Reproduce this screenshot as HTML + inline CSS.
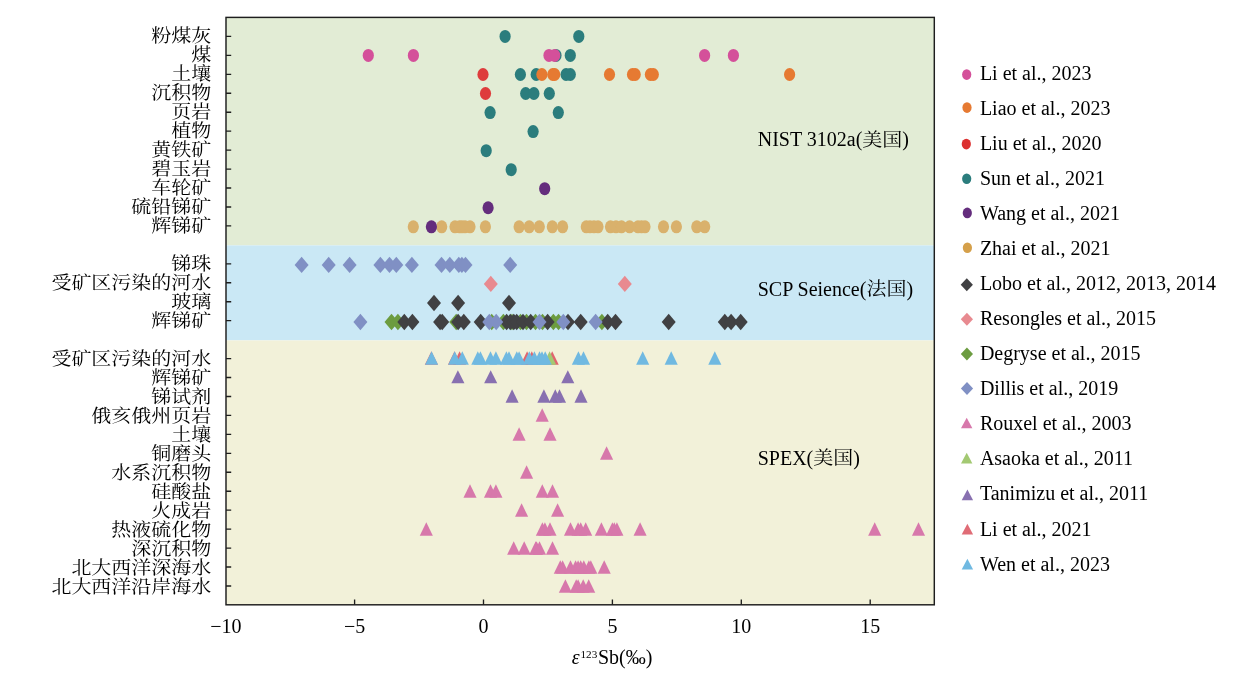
<!DOCTYPE html>
<html lang="zh-CN">
<head>
<meta charset="utf-8">
<title>ε123Sb(‰)</title>
<style>
html,body{margin:0;padding:0;background:#fff;}
body{width:1259px;height:677px;overflow:hidden;}
svg{display:block;}
text{font-family:"Liberation Serif","Noto Serif CJK SC",serif;font-size:20px;fill:#000000;}
.yl{font-size:20px;font-weight:400;text-anchor:end;}
.xt{text-anchor:middle;}
.cj{font-weight:400;}
.it{font-style:italic;}
.ax{stroke:#1e1e1e;fill:none;}
</style>
</head>
<body>
<svg width="1259" height="677" viewBox="0 0 1259 677" role="img" aria-label="ε123Sb(‰)">
<rect x="0" y="0" width="1259" height="677" fill="#ffffff"/>
<g id="bands">
<rect x="226" y="17.4" width="708.3" height="228" fill="#e2ecd5"/>
<rect x="226" y="245.4" width="708.3" height="95" fill="#cae8f5"/>
<rect x="226" y="340.4" width="708.3" height="264.4" fill="#f2f1d9"/>
</g>
<g id="circles">
<g fill="#2b7d7d"><ellipse cx="505.1" cy="36.4" rx="5.6" ry="6.5"/><ellipse cx="578.8" cy="36.4" rx="5.6" ry="6.5"/></g>
<g fill="#2b7d7d"><ellipse cx="556" cy="55.44" rx="5.6" ry="6.5"/><ellipse cx="570.3" cy="55.44" rx="5.6" ry="6.5"/></g>
<g fill="#d4509a"><ellipse cx="368.3" cy="55.44" rx="5.6" ry="6.5"/><ellipse cx="413.4" cy="55.44" rx="5.6" ry="6.5"/><ellipse cx="549" cy="55.44" rx="5.6" ry="6.5"/><ellipse cx="554.7" cy="55.44" rx="5.6" ry="6.5"/><ellipse cx="704.6" cy="55.44" rx="5.6" ry="6.5"/><ellipse cx="733.4" cy="55.44" rx="5.6" ry="6.5"/></g>
<g fill="#2b7d7d"><ellipse cx="520.4" cy="74.48" rx="5.6" ry="6.5"/><ellipse cx="536.2" cy="74.48" rx="5.6" ry="6.5"/><ellipse cx="566.1" cy="74.48" rx="5.6" ry="6.5"/><ellipse cx="570.3" cy="74.48" rx="5.6" ry="6.5"/></g>
<g fill="#e67a32"><ellipse cx="541.9" cy="74.48" rx="5.6" ry="6.5"/><ellipse cx="552.8" cy="74.48" rx="5.6" ry="6.5"/><ellipse cx="554.7" cy="74.48" rx="5.6" ry="6.5"/><ellipse cx="609.5" cy="74.48" rx="5.6" ry="6.5"/><ellipse cx="632.5" cy="74.48" rx="5.6" ry="6.5"/><ellipse cx="635.2" cy="74.48" rx="5.6" ry="6.5"/><ellipse cx="650.4" cy="74.48" rx="5.6" ry="6.5"/><ellipse cx="653.3" cy="74.48" rx="5.6" ry="6.5"/><ellipse cx="789.6" cy="74.48" rx="5.6" ry="6.5"/></g>
<g fill="#de3c3c"><ellipse cx="483" cy="74.48" rx="5.6" ry="6.5"/></g>
<g fill="#2b7d7d"><ellipse cx="525.7" cy="93.52" rx="5.6" ry="6.5"/><ellipse cx="533.9" cy="93.52" rx="5.6" ry="6.5"/><ellipse cx="549.3" cy="93.52" rx="5.6" ry="6.5"/></g>
<g fill="#de3c3c"><ellipse cx="485.5" cy="93.52" rx="5.6" ry="6.5"/></g>
<g fill="#2b7d7d"><ellipse cx="490.1" cy="112.56" rx="5.6" ry="6.5"/><ellipse cx="558.3" cy="112.56" rx="5.6" ry="6.5"/></g>
<g fill="#2b7d7d"><ellipse cx="533.1" cy="131.6" rx="5.6" ry="6.5"/></g>
<g fill="#2b7d7d"><ellipse cx="486.2" cy="150.64" rx="5.6" ry="6.5"/></g>
<g fill="#2b7d7d"><ellipse cx="511.2" cy="169.68" rx="5.6" ry="6.5"/></g>
<g fill="#642d7d"><ellipse cx="544.7" cy="188.72" rx="5.6" ry="6.5"/></g>
<g fill="#642d7d"><ellipse cx="488.1" cy="207.76" rx="5.6" ry="6.5"/></g>
<g fill="#d9b16c"><ellipse cx="413.3" cy="226.8" rx="5.6" ry="6.5"/><ellipse cx="441.7" cy="226.8" rx="5.6" ry="6.5"/><ellipse cx="455" cy="226.8" rx="5.6" ry="6.5"/><ellipse cx="459.5" cy="226.8" rx="5.6" ry="6.5"/><ellipse cx="462" cy="226.8" rx="5.6" ry="6.5"/><ellipse cx="465" cy="226.8" rx="5.6" ry="6.5"/><ellipse cx="470" cy="226.8" rx="5.6" ry="6.5"/><ellipse cx="485.4" cy="226.8" rx="5.6" ry="6.5"/><ellipse cx="519.1" cy="226.8" rx="5.6" ry="6.5"/><ellipse cx="529.2" cy="226.8" rx="5.6" ry="6.5"/><ellipse cx="539.3" cy="226.8" rx="5.6" ry="6.5"/><ellipse cx="552.3" cy="226.8" rx="5.6" ry="6.5"/><ellipse cx="562.6" cy="226.8" rx="5.6" ry="6.5"/><ellipse cx="586.3" cy="226.8" rx="5.6" ry="6.5"/><ellipse cx="590" cy="226.8" rx="5.6" ry="6.5"/><ellipse cx="594" cy="226.8" rx="5.6" ry="6.5"/><ellipse cx="598" cy="226.8" rx="5.6" ry="6.5"/><ellipse cx="610.5" cy="226.8" rx="5.6" ry="6.5"/><ellipse cx="616" cy="226.8" rx="5.6" ry="6.5"/><ellipse cx="621.5" cy="226.8" rx="5.6" ry="6.5"/><ellipse cx="629.6" cy="226.8" rx="5.6" ry="6.5"/><ellipse cx="638" cy="226.8" rx="5.6" ry="6.5"/><ellipse cx="641.5" cy="226.8" rx="5.6" ry="6.5"/><ellipse cx="645" cy="226.8" rx="5.6" ry="6.5"/><ellipse cx="663.5" cy="226.8" rx="5.6" ry="6.5"/><ellipse cx="676.4" cy="226.8" rx="5.6" ry="6.5"/><ellipse cx="696.8" cy="226.8" rx="5.6" ry="6.5"/><ellipse cx="704.7" cy="226.8" rx="5.6" ry="6.5"/></g>
<g fill="#642d7d"><ellipse cx="431.4" cy="226.8" rx="5.6" ry="6.5"/></g>
</g>
<g id="diamonds">
<g fill="#8090c4"><polygon points="301.6,256.68 308.6,264.88 301.6,273.08 294.6,264.88"/><polygon points="328.7,256.68 335.7,264.88 328.7,273.08 321.7,264.88"/><polygon points="349.6,256.68 356.6,264.88 349.6,273.08 342.6,264.88"/><polygon points="380.4,256.68 387.4,264.88 380.4,273.08 373.4,264.88"/><polygon points="389.5,256.68 396.5,264.88 389.5,273.08 382.5,264.88"/><polygon points="396.3,256.68 403.3,264.88 396.3,273.08 389.3,264.88"/><polygon points="411.9,256.68 418.9,264.88 411.9,273.08 404.9,264.88"/><polygon points="441.5,256.68 448.5,264.88 441.5,273.08 434.5,264.88"/><polygon points="449.8,256.68 456.8,264.88 449.8,273.08 442.8,264.88"/><polygon points="458.8,256.68 465.8,264.88 458.8,273.08 451.8,264.88"/><polygon points="461.9,256.68 468.9,264.88 461.9,273.08 454.9,264.88"/><polygon points="465.5,256.68 472.5,264.88 465.5,273.08 458.5,264.88"/><polygon points="510.2,256.68 517.2,264.88 510.2,273.08 503.2,264.88"/></g>
<g fill="#e88a90"><polygon points="490.8,275.72 497.8,283.92 490.8,292.12 483.8,283.92"/><polygon points="624.8,275.72 631.8,283.92 624.8,292.12 617.8,283.92"/></g>
<g fill="#414143"><polygon points="434,294.76 441,302.96 434,311.16 427,302.96"/><polygon points="458.1,294.76 465.1,302.96 458.1,311.16 451.1,302.96"/><polygon points="509,294.76 516,302.96 509,311.16 502,302.96"/></g>
<g fill="#6c9c40"><polygon points="391.5,313.8 398.5,322 391.5,330.2 384.5,322"/><polygon points="397.9,313.8 404.9,322 397.9,330.2 390.9,322"/><polygon points="456.2,313.8 463.2,322 456.2,330.2 449.2,322"/><polygon points="491.7,313.8 498.7,322 491.7,330.2 484.7,322"/><polygon points="503.4,313.8 510.4,322 503.4,330.2 496.4,322"/><polygon points="512,313.8 519,322 512,330.2 505,322"/><polygon points="520.5,313.8 527.5,322 520.5,330.2 513.5,322"/><polygon points="526.5,313.8 533.5,322 526.5,330.2 519.5,322"/><polygon points="535.5,313.8 542.5,322 535.5,330.2 528.5,322"/><polygon points="542.5,313.8 549.5,322 542.5,330.2 535.5,322"/><polygon points="553.4,313.8 560.4,322 553.4,330.2 546.4,322"/><polygon points="558.5,313.8 565.5,322 558.5,330.2 551.5,322"/><polygon points="601.9,313.8 608.9,322 601.9,330.2 594.9,322"/></g>
<g fill="#414143"><polygon points="404.3,313.8 411.3,322 404.3,330.2 397.3,322"/><polygon points="412.4,313.8 419.4,322 412.4,330.2 405.4,322"/><polygon points="440.1,313.8 447.1,322 440.1,330.2 433.1,322"/><polygon points="442.2,313.8 449.2,322 442.2,330.2 435.2,322"/><polygon points="458.1,313.8 465.1,322 458.1,330.2 451.1,322"/><polygon points="463.8,313.8 470.8,322 463.8,330.2 456.8,322"/><polygon points="480.7,313.8 487.7,322 480.7,330.2 473.7,322"/><polygon points="506.6,313.8 513.6,322 506.6,330.2 499.6,322"/><polygon points="510.3,313.8 517.3,322 510.3,330.2 503.3,322"/><polygon points="513.8,313.8 520.8,322 513.8,330.2 506.8,322"/><polygon points="516.7,313.8 523.7,322 516.7,330.2 509.7,322"/><polygon points="523,313.8 530,322 523,330.2 516,322"/><polygon points="530.7,313.8 537.7,322 530.7,330.2 523.7,322"/><polygon points="547.6,313.8 554.6,322 547.6,330.2 540.6,322"/><polygon points="568,313.8 575,322 568,330.2 561,322"/><polygon points="580.7,313.8 587.7,322 580.7,330.2 573.7,322"/><polygon points="607.7,313.8 614.7,322 607.7,330.2 600.7,322"/><polygon points="615.5,313.8 622.5,322 615.5,330.2 608.5,322"/><polygon points="668.7,313.8 675.7,322 668.7,330.2 661.7,322"/><polygon points="724.8,313.8 731.8,322 724.8,330.2 717.8,322"/><polygon points="731.1,313.8 738.1,322 731.1,330.2 724.1,322"/><polygon points="740.7,313.8 747.7,322 740.7,330.2 733.7,322"/></g>
<g fill="#8090c4"><polygon points="360.4,313.8 367.4,322 360.4,330.2 353.4,322"/><polygon points="489.3,313.8 496.3,322 489.3,330.2 482.3,322"/><polygon points="496.2,313.8 503.2,322 496.2,330.2 489.2,322"/><polygon points="539.5,313.8 546.5,322 539.5,330.2 532.5,322"/><polygon points="563.3,313.8 570.3,322 563.3,330.2 556.3,322"/><polygon points="595.6,313.8 602.6,322 595.6,330.2 588.6,322"/></g>
</g>
<g id="triangles">
<g fill="#e0656e"><polygon points="431.4,351.35 437.95,364.65 424.85,364.65"/><polygon points="454.5,351.35 461.05,364.65 447.95,364.65"/><polygon points="459.6,351.35 466.15,364.65 453.05,364.65"/><polygon points="527.1,351.35 533.65,364.65 520.55,364.65"/><polygon points="531.8,351.35 538.35,364.65 525.25,364.65"/><polygon points="552.2,351.35 558.75,364.65 545.65,364.65"/></g>
<g fill="#a3c972"><polygon points="549.6,351.35 556.15,364.65 543.05,364.65"/></g>
<g fill="#70b9e1"><polygon points="431.6,351.35 438.15,364.65 425.05,364.65"/><polygon points="454.7,351.35 461.25,364.65 448.15,364.65"/><polygon points="462.3,351.35 468.85,364.65 455.75,364.65"/><polygon points="477.8,351.35 484.35,364.65 471.25,364.65"/><polygon points="480.4,351.35 486.95,364.65 473.85,364.65"/><polygon points="490.5,351.35 497.05,364.65 483.95,364.65"/><polygon points="495.9,351.35 502.45,364.65 489.35,364.65"/><polygon points="506.4,351.35 512.95,364.65 499.85,364.65"/><polygon points="509,351.35 515.55,364.65 502.45,364.65"/><polygon points="516.8,351.35 523.35,364.65 510.25,364.65"/><polygon points="519.1,351.35 525.65,364.65 512.55,364.65"/><polygon points="529.3,351.35 535.85,364.65 522.75,364.65"/><polygon points="534.4,351.35 540.95,364.65 527.85,364.65"/><polygon points="539.5,351.35 546.05,364.65 532.95,364.65"/><polygon points="542,351.35 548.55,364.65 535.45,364.65"/><polygon points="545.2,351.35 551.75,364.65 538.65,364.65"/><polygon points="578.4,351.35 584.95,364.65 571.85,364.65"/><polygon points="583.5,351.35 590.05,364.65 576.95,364.65"/><polygon points="642.7,351.35 649.25,364.65 636.15,364.65"/><polygon points="671.2,351.35 677.75,364.65 664.65,364.65"/><polygon points="714.8,351.35 721.35,364.65 708.25,364.65"/></g>
<g fill="#8870b0"><polygon points="457.9,370.35 464.45,383.15 451.35,383.15"/><polygon points="490.7,370.35 497.25,383.15 484.15,383.15"/><polygon points="567.8,370.35 574.35,383.15 561.25,383.15"/></g>
<g fill="#8870b0"><polygon points="512.1,389.35 518.65,402.65 505.55,402.65"/><polygon points="543.9,389.35 550.45,402.65 537.35,402.65"/><polygon points="555.3,389.35 561.85,402.65 548.75,402.65"/><polygon points="559.5,389.35 566.05,402.65 552.95,402.65"/><polygon points="581,389.35 587.55,402.65 574.45,402.65"/></g>
<g fill="#d778ab"><polygon points="542.2,408.35 548.75,421.65 535.65,421.65"/></g>
<g fill="#d778ab"><polygon points="519.1,427.35 525.65,440.65 512.55,440.65"/><polygon points="550,427.35 556.55,440.65 543.45,440.65"/></g>
<g fill="#d778ab"><polygon points="606.6,446.35 613.15,459.65 600.05,459.65"/></g>
<g fill="#d778ab"><polygon points="526.6,465.35 533.15,478.65 520.05,478.65"/></g>
<g fill="#d778ab"><polygon points="470,484.35 476.55,497.65 463.45,497.65"/><polygon points="490.5,484.35 497.05,497.65 483.95,497.65"/><polygon points="495.9,484.35 502.45,497.65 489.35,497.65"/><polygon points="542.3,484.35 548.85,497.65 535.75,497.65"/><polygon points="552.5,484.35 559.05,497.65 545.95,497.65"/></g>
<g fill="#d778ab"><polygon points="521.6,503.35 528.15,516.65 515.05,516.65"/><polygon points="557.6,503.35 564.15,516.65 551.05,516.65"/></g>
<g fill="#d778ab"><polygon points="426.3,522.35 432.85,535.65 419.75,535.65"/><polygon points="542.4,522.35 548.95,535.65 535.85,535.65"/><polygon points="544.9,522.35 551.45,535.65 538.35,535.65"/><polygon points="550,522.35 556.55,535.65 543.45,535.65"/><polygon points="570.5,522.35 577.05,535.65 563.95,535.65"/><polygon points="578.1,522.35 584.65,535.65 571.55,535.65"/><polygon points="580.7,522.35 587.25,535.65 574.15,535.65"/><polygon points="585.7,522.35 592.25,535.65 579.15,535.65"/><polygon points="601.4,522.35 607.95,535.65 594.85,535.65"/><polygon points="612.4,522.35 618.95,535.65 605.85,535.65"/><polygon points="614.3,522.35 620.85,535.65 607.75,535.65"/><polygon points="616.9,522.35 623.45,535.65 610.35,535.65"/><polygon points="640.1,522.35 646.65,535.65 633.55,535.65"/><polygon points="874.7,522.35 881.25,535.65 868.15,535.65"/><polygon points="918.5,522.35 925.05,535.65 911.95,535.65"/></g>
<g fill="#d778ab"><polygon points="513.7,541.35 520.25,554.65 507.15,554.65"/><polygon points="524.2,541.35 530.75,554.65 517.65,554.65"/><polygon points="535.7,541.35 542.25,554.65 529.15,554.65"/><polygon points="536.6,541.35 543.15,554.65 530.05,554.65"/><polygon points="539.5,541.35 546.05,554.65 532.95,554.65"/><polygon points="552.5,541.35 559.05,554.65 545.95,554.65"/></g>
<g fill="#d778ab"><polygon points="560.3,560.35 566.85,573.65 553.75,573.65"/><polygon points="562.6,560.35 569.15,573.65 556.05,573.65"/><polygon points="570.5,560.35 577.05,573.65 563.95,573.65"/><polygon points="575.6,560.35 582.15,573.65 569.05,573.65"/><polygon points="578.1,560.35 584.65,573.65 571.55,573.65"/><polygon points="580.7,560.35 587.25,573.65 574.15,573.65"/><polygon points="583.8,560.35 590.35,573.65 577.25,573.65"/><polygon points="588.9,560.35 595.45,573.65 582.35,573.65"/><polygon points="590.8,560.35 597.35,573.65 584.25,573.65"/><polygon points="604.2,560.35 610.75,573.65 597.65,573.65"/></g>
<g fill="#d778ab"><polygon points="565.4,579.35 571.95,592.65 558.85,592.65"/><polygon points="576.2,579.35 582.75,592.65 569.65,592.65"/><polygon points="578.1,579.35 584.65,592.65 571.55,592.65"/><polygon points="583.2,579.35 589.75,592.65 576.65,592.65"/><polygon points="588.7,579.35 595.25,592.65 582.15,592.65"/></g>
</g>
<g id="axes" class="ax">
<rect x="226" y="17.4" width="708.3" height="587.4" stroke-width="1.45"/>
<path d="M226 36.4h5.2M226 55.35h5.2M226 74.3h5.2M226 93.25h5.2M226 112.2h5.2M226 131.15h5.2M226 150.1h5.2M226 169.05h5.2M226 188h5.2M226 206.95h5.2M226 225.9h5.2M226 263.8h5.2M226 282.75h5.2M226 301.7h5.2M226 320.65h5.2M226 358.55h5.2M226 377.5h5.2M226 396.45h5.2M226 415.4h5.2M226 434.35h5.2M226 453.3h5.2M226 472.25h5.2M226 491.2h5.2M226 510.15h5.2M226 529.1h5.2M226 548.05h5.2M226 567h5.2M226 585.95h5.2M354.6 604.8v-5.2M483.5 604.8v-5.2M612.4 604.8v-5.2M741.3 604.8v-5.2M870.2 604.8v-5.2" stroke-width="1.35"/>
</g>
<g id="ylabels">
<text class="yl" transform="translate(211.3 42) scale(1 0.92)">粉煤灰</text>
<text class="yl" transform="translate(211.3 61) scale(1 0.92)">煤</text>
<text class="yl" transform="translate(211.3 80) scale(1 0.92)">土壤</text>
<text class="yl" transform="translate(211.3 99) scale(1 0.92)">沉积物</text>
<text class="yl" transform="translate(211.3 118) scale(1 0.92)">页岩</text>
<text class="yl" transform="translate(211.3 137) scale(1 0.92)">植物</text>
<text class="yl" transform="translate(211.3 156) scale(1 0.92)">黄铁矿</text>
<text class="yl" transform="translate(211.3 175) scale(1 0.92)">碧玉岩</text>
<text class="yl" transform="translate(211.3 194) scale(1 0.92)">车轮矿</text>
<text class="yl" transform="translate(211.3 213) scale(1 0.92)">硫铅锑矿</text>
<text class="yl" transform="translate(211.3 232) scale(1 0.92)">辉锑矿</text>
<text class="yl" transform="translate(211.3 270) scale(1 0.92)">锑珠</text>
<text class="yl" transform="translate(211.3 289) scale(1 0.92)">受矿区污染的河水</text>
<text class="yl" transform="translate(211.3 308) scale(1 0.92)">玻璃</text>
<text class="yl" transform="translate(211.3 327) scale(1 0.92)">辉锑矿</text>
<text class="yl" transform="translate(211.3 365) scale(1 0.92)">受矿区污染的河水</text>
<text class="yl" transform="translate(211.3 384) scale(1 0.92)">辉锑矿</text>
<text class="yl" transform="translate(211.3 403) scale(1 0.92)">锑试剂</text>
<text class="yl" transform="translate(211.3 422) scale(1 0.92)">俄亥俄州页岩</text>
<text class="yl" transform="translate(211.3 441) scale(1 0.92)">土壤</text>
<text class="yl" transform="translate(211.3 460) scale(1 0.92)">铜磨头</text>
<text class="yl" transform="translate(211.3 479) scale(1 0.92)">水系沉积物</text>
<text class="yl" transform="translate(211.3 498) scale(1 0.92)">硅酸盐</text>
<text class="yl" transform="translate(211.3 517) scale(1 0.92)">火成岩</text>
<text class="yl" transform="translate(211.3 536) scale(1 0.92)">热液硫化物</text>
<text class="yl" transform="translate(211.3 555) scale(1 0.92)">深沉积物</text>
<text class="yl" transform="translate(211.3 574) scale(1 0.92)">北大西洋深海水</text>
<text class="yl" transform="translate(211.3 593) scale(1 0.92)">北大西洋沿岸海水</text>
</g>
<g id="xticks">
<text class="xt" x="225.8" y="633.4">−10</text>
<text class="xt" x="354.6" y="633.4">−5</text>
<text class="xt" x="483.5" y="633.4">0</text>
<text class="xt" x="612.4" y="633.4">5</text>
<text class="xt" x="741.3" y="633.4">10</text>
<text class="xt" x="870.2" y="633.4">15</text>
</g>
<text y="663.6"><tspan class="it" x="571.7">ε</tspan><tspan font-size="11.2" x="580.5" dy="-5.3">123</tspan><tspan x="598" dy="5.3">Sb(‰)</tspan></text>
<g id="bandlabels">
<text x="757.7" y="145.8">NIST 3102a(</text>
<text class="cj" transform="translate(862.33 145.5) scale(1 0.92)">美国</text>
<text x="902.33" y="145.8">)</text>
<text x="757.7" y="295.6">SCP Seience(</text>
<text class="cj" transform="translate(866.4 295.3) scale(1 0.92)">法国</text>
<text x="906.4" y="295.6">)</text>
<text x="757.7" y="464.5">SPEX(</text>
<text class="cj" transform="translate(813.28 464.2) scale(1 0.92)">美国</text>
<text x="853.28" y="464.5">)</text>
</g>
<g id="legend">
<ellipse cx="966.7" cy="74.6" rx="4.6" ry="5.3" fill="#d4509a"/>
<text x="979.9" y="79.9">Li et al., 2023</text>
<ellipse cx="967" cy="107.6" rx="4.6" ry="5.3" fill="#e67a32"/>
<text x="979.9" y="114.92">Liao et al., 2023</text>
<ellipse cx="966.3" cy="144.1" rx="4.6" ry="5.3" fill="#dc3030"/>
<text x="979.9" y="149.94">Liu et al., 2020</text>
<ellipse cx="966.7" cy="178.8" rx="4.6" ry="5.3" fill="#2b7d7d"/>
<text x="979.9" y="184.96">Sun et al., 2021</text>
<ellipse cx="967.3" cy="212.9" rx="4.6" ry="5.3" fill="#642d7d"/>
<text x="979.9" y="219.98">Wang et al., 2021</text>
<ellipse cx="967.4" cy="247.7" rx="4.6" ry="5.3" fill="#d5a04a"/>
<text x="979.9" y="255">Zhai et al., 2021</text>
<polygon points="966.8,278.3 972.9,284.8 966.8,291.3 960.7,284.8" fill="#414143"/>
<text x="979.9" y="290.02">Lobo et al., 2012, 2013, 2014</text>
<polygon points="966.9,312.8 973,319.3 966.9,325.8 960.8,319.3" fill="#e88a90"/>
<text x="979.9" y="325.04">Resongles et al., 2015</text>
<polygon points="966.9,347.4 973,353.9 966.9,360.4 960.8,353.9" fill="#6c9c40"/>
<text x="979.9" y="360.06">Degryse et al., 2015</text>
<polygon points="967,381.9 973.1,388.4 967,394.9 960.9,388.4" fill="#8090c4"/>
<text x="979.9" y="395.08">Dillis et al., 2019</text>
<polygon points="966.7,417.65 972.4,428.35 961,428.35" fill="#d778ab"/>
<text x="979.9" y="430.1">Rouxel et al., 2003</text>
<polygon points="966.7,452.75 972.4,463.45 961,463.45" fill="#a3c972"/>
<text x="979.9" y="465.12">Asaoka et al., 2011</text>
<polygon points="967.4,489.45 973.1,500.15 961.7,500.15" fill="#8870b0"/>
<text x="979.9" y="500.14">Tanimizu et al., 2011</text>
<polygon points="967.4,523.85 973.1,534.55 961.7,534.55" fill="#e06c76"/>
<text x="979.9" y="536.16">Li et al., 2021</text>
<polygon points="967.4,558.75 973.1,569.45 961.7,569.45" fill="#70b9e1"/>
<text x="979.9" y="571.08">Wen et al., 2023</text>
</g>
</svg>
</body>
</html>
